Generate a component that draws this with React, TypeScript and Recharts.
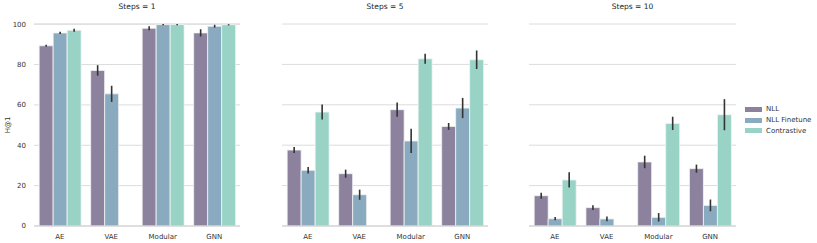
import { BarChart, Bar, XAxis, YAxis, CartesianGrid, ErrorBar } from "recharts";

const models = ["AE", "VAE", "Modular", "GNN"];
const steps = [1, 5, 10];
const seriesNames = ["NLL", "NLL Finetune", "Contrastive"];
const seriesColors = ["#8c829e", "#8aabbf", "#98d3c6"];
const yTicks = [0, 20, 40, 60, 80, 100];

// mean values per model, one array per step count (null = no bar)
const nll = [
  [89.3, 77.1, 98.0, 95.7],
  [37.6, 25.9, 57.6, 49.3],
  [15.0, 9.1, 31.7, 28.4],
];
const nllFinetune = [
  [95.7, 65.5, 99.8, 99.0],
  [27.6, 15.5, 42.1, 58.4],
  [3.6, 3.5, 4.3, 10.2],
];
const contrastive = [
  [97.0, null, 99.8, 99.7],
  [56.4, null, 82.8, 82.3],
  [22.8, null, 50.8, 55.1],
];

// half-width of the confidence interval
const nllErr = [
  [0.5, 2.6, 1.0, 1.8],
  [1.5, 2.0, 3.5, 1.7],
  [1.5, 1.2, 3.1, 2.0],
];
const nllFinetuneErr = [
  [0.5, 4.0, 0.3, 0.7],
  [1.6, 2.5, 6.0, 5.0],
  [0.8, 1.2, 2.1, 2.9],
];
const contrastiveErr = [
  [0.7, 0, 0.3, 0.3],
  [3.7, 0, 2.5, 4.6],
  [3.8, 0, 3.3, 7.7],
];

const font = "'DejaVu Sans', sans-serif";
const tickStyle = { fontSize: 7, fill: "#333", fontFamily: font };

function panelData(i: number) {
  return models.map((m, j) => ({
    model: m,
    nll: nll[i][j],
    nllErr: nllErr[i][j],
    ft: nllFinetune[i][j],
    ftErr: nllFinetuneErr[i][j],
    con: contrastive[i][j],
    conErr: contrastive[i][j] == null ? 0 : contrastiveErr[i][j],
  }));
}

const keys = [
  ["nll", "nllErr"],
  ["ft", "ftErr"],
  ["con", "conErr"],
];

function LegendBox() {
  return (
    <div style={{ position: "absolute", left: 745, top: 104, fontFamily: font, fontSize: 7, color: "#333" }}>
      {seriesNames.map((n, i) => (
        <div key={n} style={{ display: "flex", alignItems: "center", height: 10.7 }}>
          <span style={{ display: "inline-block", width: 17, height: 5, background: seriesColors[i], marginRight: 4 }} />
          {n}
        </div>
      ))}
    </div>
  );
}

function Panel({ idx, left, width, withAxis }: { idx: number; left: number; width: number; withAxis?: boolean }) {
  const plotLeft = withAxis ? 34 : 0;
  return (
    <div style={{ position: "absolute", left, top: 0 }}>
      <div
        style={{
          position: "absolute",
          left: plotLeft,
          width: width - plotLeft,
          top: 2,
          textAlign: "center",
          fontFamily: font,
          fontSize: 7.5,
          color: "#222",
        }}
      >
        Steps = {steps[idx]}
      </div>
      <BarChart
        width={width}
        height={243}
        data={panelData(idx)}
        margin={{ top: 24, right: 0, left: 0, bottom: 0 }}
        barCategoryGap="10%"
        barGap={0}
      >
        <CartesianGrid stroke="#dcdcdc" vertical={false} />
        <XAxis
          dataKey="model"
          height={17}
          tick={tickStyle}
          tickLine={false}
          axisLine={{ stroke: "#cfcfcf" }}
          interval={0}
        />
        <YAxis
          domain={[0, 100]}
          ticks={yTicks}
          hide={!withAxis}
          width={withAxis ? 34 : 0}
          tick={tickStyle}
          tickLine={false}
          axisLine={false}
          label={{ value: "H@1", angle: -90, position: "insideLeft", offset: 8, style: { ...tickStyle, textAnchor: "middle" } }}
        />
        {keys.map(([k, e], i) => (
          <Bar key={k} dataKey={k} name={seriesNames[i]} fill={seriesColors[i]} stroke="#f4f4f4" strokeWidth={0.8} isAnimationActive={false}>
            <ErrorBar dataKey={e} width={0} stroke="#333" strokeWidth={1.6} direction="y" />
          </Bar>
        ))}
      </BarChart>
    </div>
  );
}

export default function App() {
  return (
    <div style={{ position: "absolute", left: 0, top: 0, width: 817, height: 243, background: "#fff" }}>
      <Panel idx={0} left={0} width={240} withAxis />
      <Panel idx={1} left={282} width={206} />
      <Panel idx={2} left={529} width={207} />
      <LegendBox />
    </div>
  );
}
